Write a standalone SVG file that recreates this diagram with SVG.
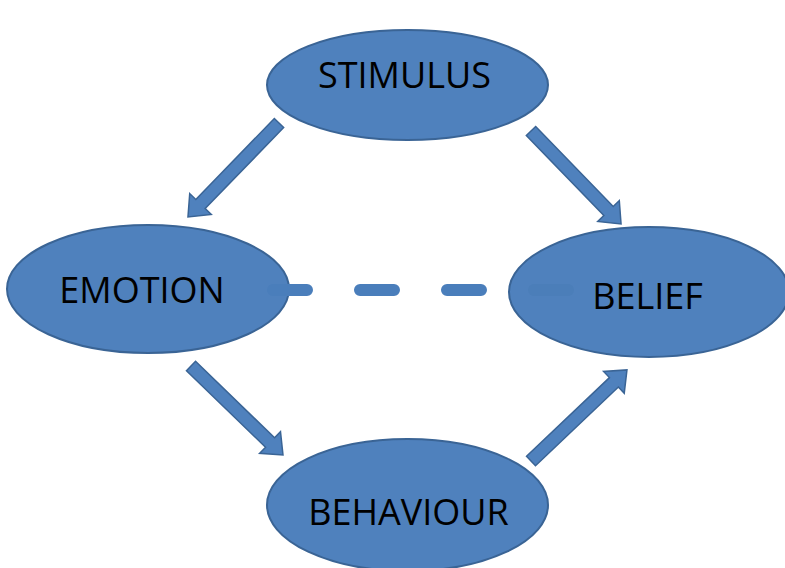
<svg xmlns="http://www.w3.org/2000/svg" width="785" height="568" viewBox="0 0 785 568">
  <style>
    .node ellipse { fill: #4F81BD; stroke: #3A6495; stroke-width: 2; }
    .node text { font-family: "Open Sans", "Liberation Sans", sans-serif; font-size: 36px; fill: #000; text-anchor: middle; }
    .arrow { fill: #4F81BD; stroke: #3A6495; stroke-width: 1.5; stroke-linejoin: miter; }
    .dash { fill: none; stroke: #4A7EBB; stroke-width: 12; stroke-linecap: round; stroke-dasharray: 34 53; }
    .dash-faint { fill: none; stroke: #4B7EB9; stroke-width: 12; stroke-linecap: round; }
  </style>
  <rect width="785" height="568" fill="#FFFFFF"/>

  <g id="connectors">
    <path class="arrow" transform="translate(279,123) rotate(134.1)" d="M0,-6.5 L112.8,-6.5 L112.8,-15 L130.8,0 L112.8,15 L112.8,6.5 L0,6.5 Z"/>
    <path class="arrow" transform="translate(531,131) rotate(45.9)" d="M0,-6.5 L111.4,-6.5 L111.4,-15 L129.4,0 L111.4,15 L111.4,6.5 L0,6.5 Z"/>
    <path class="arrow" transform="translate(191,366) rotate(44.05)" d="M0,-6.5 L110,-6.5 L110,-15 L128,0 L110,15 L110,6.5 L0,6.5 Z"/>
    <path class="arrow" transform="translate(531,461) rotate(-43.5)" d="M0,-6.5 L114.3,-6.5 L114.3,-15 L132.3,0 L114.3,15 L114.3,6.5 L0,6.5 Z"/>
  </g>

  <g id="stimulus" class="node">
    <ellipse cx="407.5" cy="85" rx="140.5" ry="55"/>
    <text x="404.5" y="88">STIMULUS</text>
  </g>
  <g id="emotion" class="node">
    <ellipse cx="148" cy="289" rx="141" ry="64"/>
    <text x="142" y="303">EMOTION</text>
  </g>
  <g id="belief" class="node">
    <ellipse cx="649" cy="292" rx="140" ry="65"/>
    <text x="647.5" y="309">BELIEF</text>
  </g>
  <g id="behaviour" class="node">
    <ellipse cx="407.5" cy="505" rx="140.5" ry="66"/>
    <text x="408.5" y="525">BEHAVIOUR</text>
  </g>

  <g id="dashed-connector">
    <line class="dash" x1="273" y1="290" x2="482" y2="290"/>
    <line class="dash-faint" x1="534" y1="290" x2="568" y2="290"/>
  </g>
</svg>
